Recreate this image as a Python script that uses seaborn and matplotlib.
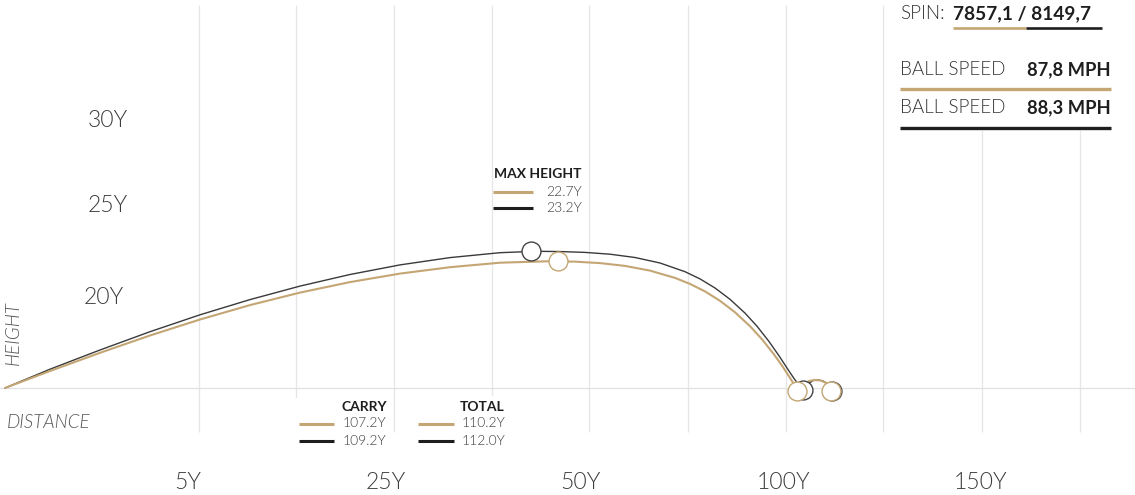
import numpy as np
import pandas as pd
import matplotlib
matplotlib.use("Agg")
import matplotlib.pyplot as plt
import matplotlib.transforms as mtransforms
from matplotlib import font_manager as fm
from matplotlib.patches import Rectangle
import seaborn as sns

# -----------------------------
# Data (distance / height in yards)
# -----------------------------
gold_dist = [0, 6.091, 12.859, 19.626, 26.394, 33.162, 39.930, 46.697, 53.465,
             60.233, 67.001, 73.768, 77.152, 80.536, 83.920, 87.304, 90.688,
             92.718, 94.749, 96.779, 98.809, 100.840, 102.464, 104.088, 105.306,
             106.254, 106.795, 107.201]
gold_height = [0, 2.931, 6.069, 9.052, 11.810, 14.293, 16.448, 18.259, 19.724,
               20.828, 21.603, 21.862, 21.784, 21.534, 21.052, 20.241, 18.983,
               17.948, 16.655, 15.034, 13.052, 10.655, 8.397, 5.793, 3.603,
               1.741, 0.621, -0.431]

black_dist = [0, 6.091, 12.859, 19.626, 26.394, 33.162, 39.930, 46.697, 53.465,
              60.233, 67.001, 71.738, 75.122, 78.506, 81.890, 85.274, 88.658,
              92.041, 94.072, 96.102, 98.132, 100.163, 101.787, 103.411,
              104.765, 105.848, 106.795, 107.607, 108.013]
black_height = [0, 3.241, 6.552, 9.707, 12.621, 15.241, 17.569, 19.569, 21.224,
                22.483, 23.328, 23.569, 23.526, 23.379, 23.069, 22.500, 21.552,
                20.052, 18.810, 17.241, 15.293, 12.914, 10.655, 8.017, 5.552,
                3.448, 1.638, 0.259, -0.345]

# roll after landing
gold_roll_dist = [107.20, 108.01, 108.83, 109.64, 110.45, 111.13, 111.80]
gold_roll_height = [-0.52, 0.52, 1.21, 1.38, 1.29, 0.86, -0.52]
black_roll_dist = [108.01, 108.69, 109.37, 110.05, 110.72, 111.40, 111.94]
black_roll_height = [-0.43, 0.69, 1.29, 1.38, 1.21, 0.69, -0.52]

# apex / carry / total markers
gold_marks_dist = [74.85, 107.20, 111.80]
gold_marks_height = [21.85, -0.52, -0.52]
black_marks_dist = [71.20, 108.01, 111.94]
black_marks_height = [23.65, -0.43, -0.52]

grid_x = [26.30, 39.39, 52.61, 65.88, 79.09, 92.41, 105.71, 118.84, 132.24, 145.51]

xtick_pos = [24.81, 51.54, 77.83, 105.41, 132.08]
xtick_labels = ["5Y", "25Y", "50Y", "100Y", "150Y"]
ytick_x = [13.94, 13.87, 13.36]
ytick_pos = [45.05, 30.40, 14.43]
ytick_labels = ["30Y", "25Y", "20Y"]

max_height_vals = ["22.7Y", "23.2Y"]
carry_vals = ["107.2Y", "109.2Y"]
total_vals = ["110.2Y", "112.0Y"]
spin_val = "7857,1 / 8149,7"
ball_speed_vals = ["87,8 MPH", "88,3 MPH"]

GOLD = "#c4a674"
DARK = "#3a3a3a"
INK = "#1e1e1e"
GRID = "#e6e6e6"
TXT = "#3c3c3c"

# -----------------------------
# Fonts
# -----------------------------
sns.set_theme(style="white")


def pick(weight, style="normal", default="Lato"):
    for f in fm.fontManager.ttflist:
        if f.name.startswith("Lato") and f.weight == weight and f.style == style:
            return f.name
    return default


LIGHT = pick(300)
LIGHT_IT = pick(300, "italic")
BOLD = pick(700)
plt.rcParams["font.family"] = [LIGHT, "DejaVu Sans"]

# -----------------------------
# Figure
# -----------------------------
fig = plt.figure(figsize=(11.35, 4.95), dpi=100)
ax = fig.add_axes([0, 33 / 495, 1, 462 / 495])
ax.set_xlim(-0.677, 152.95)
ax.set_ylim(-12.759, 66.897)

# pixel transform (top-left origin) for the overlay panels
pix = mtransforms.Affine2D().scale(0.01, -0.01).translate(0, 4.95) + fig.dpi_scale_trans

ax.vlines(grid_x, -7.59, 66.03, color=GRID, lw=0.9, zorder=0.4)
ax.axhline(0, color="#e2e2e2", lw=0.9, zorder=0.5)

flight = pd.concat([
    pd.DataFrame({"distance": black_dist, "height": black_height, "shot": "b"}),
    pd.DataFrame({"distance": gold_dist, "height": gold_height, "shot": "g"}),
])
roll = pd.concat([
    pd.DataFrame({"distance": black_roll_dist, "height": black_roll_height, "shot": "b"}),
    pd.DataFrame({"distance": gold_roll_dist, "height": gold_roll_height, "shot": "g"}),
])

for df in (flight, roll):
    sns.lineplot(data=df[df.shot == "b"], x="distance", y="height", color=DARK,
                 lw=1.0, sort=False, estimator=None, ax=ax, zorder=2)
    sns.lineplot(data=df[df.shot == "g"], x="distance", y="height", color=GOLD,
                 lw=1.5, sort=False, estimator=None, ax=ax, zorder=2.1)

sns.scatterplot(x=black_marks_dist, y=black_marks_height, s=185, color="white",
                edgecolor="#444444", linewidth=1.0, ax=ax, zorder=3)
sns.scatterplot(x=gold_marks_dist, y=gold_marks_height, s=185, color="white",
                edgecolor=GOLD, linewidth=1.0, ax=ax, zorder=4)

# axis labels
ax.set_xticks(xtick_pos, xtick_labels)
ax.tick_params(axis="x", length=0, pad=19.4, labelsize=16.5, labelcolor=TXT)
for lbl in ax.get_xticklabels():
    lbl.set_va("baseline")
    lbl.set_fontfamily([LIGHT, "DejaVu Sans"])
    lbl.set_fontweight(300)
ax.set_yticks([])
ax.set_xlabel("")
ax.set_ylabel("")
sns.despine(ax=ax, left=True, bottom=True)

for x, y, t in zip(ytick_x, ytick_pos, ytick_labels):
    ax.text(x, y, t, ha="center", va="baseline", fontsize=16.5, color=TXT,
            family=[LIGHT, "DejaVu Sans"], weight=300)

ax.text(13.7, 333, "HEIGHT", transform=pix, rotation=90, ha="center", va="center",
        fontsize=13.5, color="#555555", family=[LIGHT_IT, "DejaVu Sans"], style="italic", weight=300)
ax.text(6.7, 428, "DISTANCE", transform=pix, ha="left", va="baseline",
        fontsize=13.5, color="#555555", family=[LIGHT_IT, "DejaVu Sans"], style="italic", weight=300)


def bar(x0, x1, y, color, lw):
    ax.plot([x0, x1], [y, y], transform=pix, color=color, lw=lw,
            solid_capstyle="butt", zorder=6, clip_on=False)


def txt(x, y, s, ha="left", size=9, bold=False, color=TXT):
    ax.text(x, y, s, transform=pix, ha=ha, va="baseline", fontsize=size, color=color,
            family=[BOLD if bold else LIGHT, "DejaVu Sans"], weight=700 if bold else 300,
            zorder=7, clip_on=False)


# top-right panel
ax.add_patch(Rectangle((890, 0), 245, 131, transform=pix, fc="white", ec="none",
                       zorder=1, clip_on=False))
txt(900, 19, "SPIN:", size=13.5, color="#333333")
txt(953, 19, spin_val, size=13.8, bold=True, color=INK)
bar(953, 1026, 27.5, GOLD, 1.9)
bar(1026, 1102, 27.5, INK, 1.9)
txt(900, 75, "BALL SPEED", size=13.6, color="#333333")
txt(1111, 75, ball_speed_vals[0], ha="right", size=13.2, bold=True, color=INK)
bar(900, 1111, 88.7, GOLD, 2.4)
txt(900, 113.3, "BALL SPEED", size=13.6, color="#333333")
txt(1111, 113.3, ball_speed_vals[1], ha="right", size=13.2, bold=True, color=INK)
bar(900, 1111, 128, INK, 2.4)

# max height block
txt(582, 178.3, "MAX HEIGHT", ha="right", size=10, bold=True, color=INK)
bar(493, 533, 191.7, GOLD, 2.2)
bar(493, 533, 208, INK, 2.2)
txt(582, 195.7, max_height_vals[0], ha="right", size=10)
txt(582, 211.7, max_height_vals[1], ha="right", size=10)

# carry / total blocks
ax.add_patch(Rectangle((290, 398), 100, 55, transform=pix, fc="white", ec="none",
                       zorder=1, clip_on=False))
ax.add_patch(Rectangle((410, 396), 100, 57, transform=pix, fc="white", ec="none",
                       zorder=1, clip_on=False))
txt(386.7, 410.7, "CARRY", ha="right", size=10, bold=True, color=INK)
bar(299, 334.3, 424.3, GOLD, 2.2)
bar(299, 334.3, 441.3, INK, 2.2)
txt(386, 427.3, carry_vals[0], ha="right", size=10)
txt(386, 445, carry_vals[1], ha="right", size=10)

txt(505, 410.7, "TOTAL", ha="right", size=10, bold=True, color=INK)
bar(418.3, 454, 424.3, GOLD, 2.2)
bar(418.3, 454, 441.3, INK, 2.2)
txt(505, 427.3, total_vals[0], ha="right", size=10)
txt(505, 445, total_vals[1], ha="right", size=10)

fig.savefig("out.png", dpi=100, facecolor="white")
